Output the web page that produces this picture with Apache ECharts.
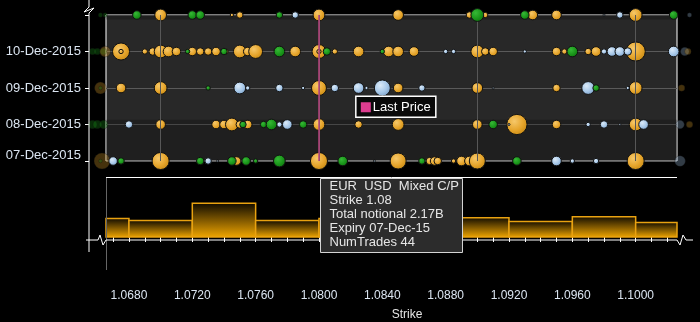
<!DOCTYPE html>
<html><head><meta charset="utf-8">
<script src="https://cdn.jsdelivr.net/npm/echarts@6/dist/echarts.min.js"></script>
<style>html,body{margin:0;padding:0;background:#000;}#c{width:700px;height:322px;}</style>
</head><body><div id="c"></div>
<script>
// ---------- data ----------
const expiryLabels = ['07-Dec-2015', '08-Dec-2015', '09-Dec-2015', '10-Dec-2015', ''];
const strikeTickLabels = [1.068, 1.072, 1.076, 1.080, 1.084, 1.088, 1.092, 1.096, 1.100];
const strikeGridLines = [1.068, 1.070, 1.072, 1.074, 1.076, 1.078, 1.080, 1.082, 1.084, 1.086, 1.088, 1.090, 1.092, 1.094, 1.096, 1.098, 1.100, 1.102];
const strikeMinorTicks = [1.067, 1.068, 1.069, 1.070, 1.071, 1.072, 1.073, 1.074, 1.075, 1.076, 1.077, 1.078, 1.079, 1.080, 1.081, 1.082, 1.083, 1.084, 1.085, 1.086, 1.087, 1.088, 1.089, 1.090, 1.091, 1.092, 1.093, 1.094, 1.095, 1.096, 1.097, 1.098, 1.099, 1.100, 1.101, 1.102];
const strikeMin = 1.06655;
const strikeMax = 1.10261;
const lastPrice = 1.0822;

// trades: [strike, expiry index, total notional (B)]
const mixedTrades = [
  [1.0700,4,1.03],[1.0745,4,0.08],[1.0750,4,0.31],[1.0800,4,1.03],[1.0850,4,0.85],[1.0895,4,0.31],[1.0905,4,0.21],[1.0935,4,0.69],[1.0950,4,0.69],[1.1000,4,1.22],
  [1.0675,3,2.17],[1.0675,3,0.14],[1.0690,3,0.21],[1.0695,3,0.42],[1.0700,3,1.22],[1.0705,3,0.85],[1.0710,3,0.54],[1.0720,3,0.54],[1.0725,3,0.42],[1.0730,3,0.42],[1.0735,3,0.54],[1.0741,3,0.21],[1.0750,3,1.22],[1.0755,3,0.54],[1.0760,3,1.43],[1.0785,3,0.85],[1.0800,3,1.43],[1.0800,3,0.14],[1.0810,3,0.21],[1.0825,3,0.85],[1.0844,3,0.85],[1.0850,3,0.85],[1.0860,3,0.69],[1.0900,3,1.22],[1.0905,3,0.42],[1.0910,3,0.54],[1.0950,3,0.54],[1.0955,3,0.21],[1.0970,3,0.31],[1.0975,3,0.69],[1.1000,3,2.75],
  [1.0675,2,0.69],[1.0700,2,1.22],[1.0800,2,1.66],[1.0850,2,0.69],[1.0900,2,0.85],[1.0950,2,0.42],[1.1000,2,1.22],
  [1.0700,1,0.69],[1.0735,1,0.54],[1.0740,1,0.54],[1.0745,1,1.22],[1.0750,1,0.42],[1.0755,1,0.54],[1.0800,1,1.03],[1.0825,1,0.42],[1.0850,1,1.03],[1.0900,1,0.69],[1.0925,1,3.06],[1.0950,1,0.54],[1.1000,1,1.22],
  [1.0700,0,2.17],[1.0748,0,0.54],[1.0800,0,2.17],[1.0850,0,1.91],[1.0870,0,0.42],[1.0873,0,0.54],[1.0875,0,0.42],[1.0885,0,0.14],[1.0890,0,0.69],[1.0895,0,0.69],[1.0900,0,1.91],[1.1000,0,2.17]
];
const callTrades = [
  [1.0685,4,0.54],[1.0720,4,0.54],[1.0725,4,0.54],[1.0775,4,0.31],[1.0900,4,1.22],[1.0930,4,0.54],[1.1024,4,0.54],
  [1.0717,3,0.14],[1.0740,3,0.31],[1.0775,3,0.85],[1.0805,3,0.42],[1.0840,3,0.14],[1.0960,3,0.85],
  [1.0730,2,0.14],[1.0975,2,0.31],
  [1.0752,1,0.31],[1.0765,1,0.31],[1.0770,1,0.85],[1.0790,1,0.42],[1.0910,1,0.54],
  [1.0675,0,0.31],[1.0725,0,0.42],[1.0745,0,0.54],[1.0754,0,0.54],[1.0760,0,0.14],[1.0775,0,1.03],[1.0815,0,0.69],[1.0865,0,0.31],[1.0925,0,0.54]
];
const putTrades = [
  [1.0785,4,0.31],[1.0980,4,0.03],[1.0990,4,0.31],
  [1.0880,3,0.14],[1.0885,3,0.14],[1.0930,3,0.08],[1.0980,3,0.21],[1.0985,3,0.69],[1.0990,3,0.69],[1.0995,3,0.42],[1.1024,3,0.85],
  [1.0750,2,1.03],[1.0755,2,0.14],[1.0775,2,0.42],[1.0790,2,0.08],[1.0810,2,0.42],[1.0825,2,0.85],[1.0830,2,0.08],[1.0840,2,1.91],[1.0865,2,0.31],[1.0910,2,0.03],[1.0970,2,1.22],[1.0995,2,0.08],
  [1.0680,1,0.42],[1.0775,1,0.21],[1.0780,1,0.69],[1.0920,1,0.03],[1.0970,1,0.14],[1.0980,1,0.42],[1.0990,1,0.03],[1.1005,1,0.69],
  [1.0670,0,0.54],[1.0730,0,0.31],[1.0736,0,0.03],[1.0755,0,0.14],[1.0835,0,0.03],[1.0950,0,0.69],[1.0960,0,0.14],[1.0975,0,0.21]
];
// trades outside the visible strike range: [strike, expiry, notional, type]
const outOfRangeTrades = [
  [1.0662,4,0.14,'C'],[1.0665,4,0.14,'C'],
  [1.0657,3,0.31,'C'],[1.0660,3,0.31,'C'],[1.0664,3,0.31,'C'],[1.0665,3,0.85,'M'],
  [1.0662,2,1.03,'M'],[1.0662,2,0.10,'C'],
  [1.0657,1,0.54,'C'],[1.0660,1,0.54,'C'],[1.0664,1,0.54,'C'],
  [1.0663,0,1.91,'M'],[1.0662,0,0.10,'C'],
  [1.1034,4,0.14,'P'],[1.1031,3,0.54,'P'],[1.1033,3,0.31,'M'],[1.1029,2,0.31,'M'],
  [1.1028,1,0.54,'P'],[1.1034,1,0.31,'M'],[1.1028,0,0.85,'P']
];
// notional histogram by strike bucket
const histBinStart = [1.064, 1.068, 1.072, 1.076, 1.080, 1.084, 1.088, 1.092, 1.096, 1.100];
const histNotional = [4.75, 4.25, 8.75, 4.25, 4.75, 5.5, 5.0, 4.0, 5.25, 3.75];
const histBinWidth = 0.004;
// highlighted trade (tooltip)
const tipLines = ['EUR  USD  Mixed C/P', 'Strike 1.08', 'Total notional 2.17B', 'Expiry 07-Dec-15', 'NumTrades 44'];

// ---------- styles ----------
const FONT = 'Liberation Sans';
const LABEL = '#dbe5f1';
function grad(c0, c1, c2) {
  return new echarts.graphic.RadialGradient(0.38, 0.35, 0.75, [
    {offset: 0, color: c0}, {offset: 0.55, color: c1}, {offset: 1, color: c2}]);
}
const goldFill = grad('#f6c86a', '#e6a52c', '#c2850f');
const greenFill = grad('#36b836', '#1a961a', '#0c6c0c');
const blueFill = grad('#dbeaf8', '#a6c7e8', '#7399c2');
const sizeOf = v => 11.6 * Math.sqrt(v[2]);

function bubbleSeries(name, data, fill, z) {
  return {
    name, type: 'scatter', xAxisIndex: 0, yAxisIndex: 0, clip: false, z,
    data, symbolSize: sizeOf,
    itemStyle: {color: fill, borderColor: '#111', borderWidth: 1, opacity: 1},
    emphasis: {disabled: true}
  };
}

const chart = echarts.init(document.getElementById('c'), null, {renderer: 'canvas'});

const option = {
  backgroundColor: '#000',
  animation: false,
  textStyle: {fontFamily: FONT},
  grid: [
    {left: 106, top: 15, width: 571, height: 146, show: true, backgroundColor: '#282828', borderColor: '#ffffff', borderWidth: 1},
    {left: 106, top: 177, width: 571, height: 62}
  ],
  xAxis: [
    {type: 'value', gridIndex: 0, min: strikeMin, max: strikeMax,
     axisLine: {show: false}, axisTick: {show: false}, axisLabel: {show: false}, splitLine: {show: false}},
    {type: 'value', gridIndex: 1, min: strikeMin, max: strikeMax,
     axisLine: {show: false},
     axisTick: {show: true, customValues: strikeMinorTicks, length: 5, lineStyle: {color: '#ffffff', width: 1}},
     axisLabel: {show: true, customValues: strikeTickLabels, formatter: v => v.toFixed(4), margin: 53,
                 color: LABEL, fontSize: 12, fontFamily: FONT},
     splitLine: {show: false},
     name: 'Strike', nameLocation: 'middle', nameGap: 72,
     nameTextStyle: {color: '#e6e6e6', fontSize: 12, fontFamily: FONT, padding: [0, 0, 0, 31]}}
  ],
  yAxis: [
    {type: 'value', gridIndex: 0, min: 0, max: 4, interval: 1, offset: 17,
     axisLine: {show: false},
     axisTick: {show: true, length: 4, lineStyle: {color: '#ffffff'}},
     axisLabel: {show: true, margin: 8, color: LABEL, fontSize: 13, fontFamily: FONT,
       formatter: v => v === 0 ? '{d|' + expiryLabels[0] + '}' : expiryLabels[v],
       rich: {d: {color: LABEL, fontSize: 13, fontFamily: FONT, padding: [0, 0, 12, 0]}}},
     splitLine: {show: true, lineStyle: {color: '#5a5a5a', width: 1}}},
    {type: 'value', gridIndex: 1, min: 0, max: 15.5, show: false}
  ],
  series: [
    {name: 'bands', type: 'scatter', xAxisIndex: 0, yAxisIndex: 0, data: [], z: 1, silent: true,
     markArea: {silent: true, itemStyle: {color: 'rgba(0,0,0,0.22)'},
       data: [[{yAxis: 0}, {yAxis: 1.13}], [{yAxis: 3.88}, {yAxis: 4}]]}},
    {name: 'strikeGrid', type: 'scatter', xAxisIndex: 0, yAxisIndex: 0, data: [], z: 1.5, silent: true,
     markLine: {silent: true, symbol: ['none', 'none'], label: {show: false},
       lineStyle: {color: '#575757', width: 1, type: 'solid'},
       data: strikeGridLines.map(v => ({xAxis: v}))}},
    {name: 'lastPrice', type: 'scatter', xAxisIndex: 0, yAxisIndex: 0, data: [], z: 2, silent: true,
     markLine: {silent: true, symbol: ['none', 'none'], label: {show: false},
       lineStyle: {color: '#b9457f', width: 1.5, type: 'solid'},
       data: [{xAxis: lastPrice}]}},
    {name: 'outOfRange', type: 'scatter', xAxisIndex: 0, yAxisIndex: 0, clip: false, z: 2.5,
     data: outOfRangeTrades, symbolSize: sizeOf,
     itemStyle: {opacity: 0.3, borderColor: '#111', borderWidth: 1,
       color: p => p.data[3] === 'M' ? '#e6a52c' : (p.data[3] === 'C' ? '#1a961a' : '#a6c7e8')}},
    bubbleSeries('Mixed C/P', mixedTrades, goldFill, 3),
    bubbleSeries('Put', putTrades, blueFill, 4),
    bubbleSeries('Call', callTrades, greenFill, 5),
    {name: 'notional', type: 'custom', xAxisIndex: 1, yAxisIndex: 1, z: 3,
     data: histBinStart.map((s, i) => [s, histNotional[i]]),
     renderItem: function (params, api) {
       const s = api.value(0), v = api.value(1);
       const p0 = api.coord([s, v]);
       const p1 = api.coord([s + histBinWidth, 0]);
       const cs = params.coordSys;
       const r = echarts.graphic.clipRectByRect(
         {x: p0[0], y: p0[1], width: p1[0] - p0[0], height: p1[1] - p0[1]},
         {x: cs.x, y: cs.y - 2, width: cs.width, height: cs.height + 4});
       if (!r) return null;
       return {type: 'rect', shape: r, style: {
         fill: new echarts.graphic.LinearGradient(0, 0, 0, 1, [
           {offset: 0, color: '#0c0800'}, {offset: 1, color: '#f2a700'}]),
         stroke: '#e9a210', lineWidth: 1.5}};
     }}
  ]
};
chart.setOption(option);

// decorations (axis lines, breaks, tooltip, last price label)
const lp = chart.convertToPixel({xAxisIndex: 0, yAxisIndex: 0}, [lastPrice, 1.5]);
const tipChildren = [{type: 'rect', z: 100, shape: {x: 0, y: 0, width: 142, height: 74},
  style: {fill: '#2c2c2c', stroke: '#d4d4d4', lineWidth: 1}}];
tipLines.forEach((t, i) => tipChildren.push({type: 'text', z: 101, x: 9, y: 8 + i * 14,
  style: {text: t, fill: '#e6e6e6', font: '13px "' + FONT + '"', textVerticalAlign: 'middle'}}));

chart.setOption({graphic: [
  {type: 'polyline', z: 50, silent: true,
   shape: {points: [[89, 0], [89, 7], [84, 12], [94, 8], [89, 13], [89, 252]]},
   style: {stroke: '#ffffff', lineWidth: 1, fill: null}},
  {type: 'polyline', z: 50, silent: true,
   shape: {points: [[86, 240], [98, 240], [100, 235], [103, 245], [106, 240], [677, 240], [680, 245], [683, 235], [686, 240], [693, 240]]},
   style: {stroke: '#ffffff', lineWidth: 1, fill: null}},
  {type: 'line', z: 50, silent: true, shape: {x1: 106, y1: 177.5, x2: 677, y2: 177.5},
   style: {stroke: '#ffffff', lineWidth: 1}},
  {type: 'line', z: 40, silent: true, shape: {x1: 106.5, y1: 178, x2: 106.5, y2: 270},
   style: {stroke: '#666666', lineWidth: 1}},
  {type: 'group', x: lp[0] + 2, y: lp[1] - 10, silent: true, children: [
    {type: 'rect', z: 90, shape: {x: 0, y: 0, width: 80, height: 21}, style: {fill: '#0a0a0a', stroke: '#ffffff', lineWidth: 1.5}},
    {type: 'rect', z: 91, shape: {x: 5, y: 6, width: 10, height: 10}, style: {fill: '#de3d90'}},
    {type: 'text', z: 91, x: 17, y: 11, style: {text: 'Last Price', fill: '#ffffff', font: '13px "' + FONT + '"', textVerticalAlign: 'middle'}}
  ]},
  {type: 'group', x: 320.5, y: 178.5, silent: true, children: tipChildren}
]});
</script>
</body></html>
